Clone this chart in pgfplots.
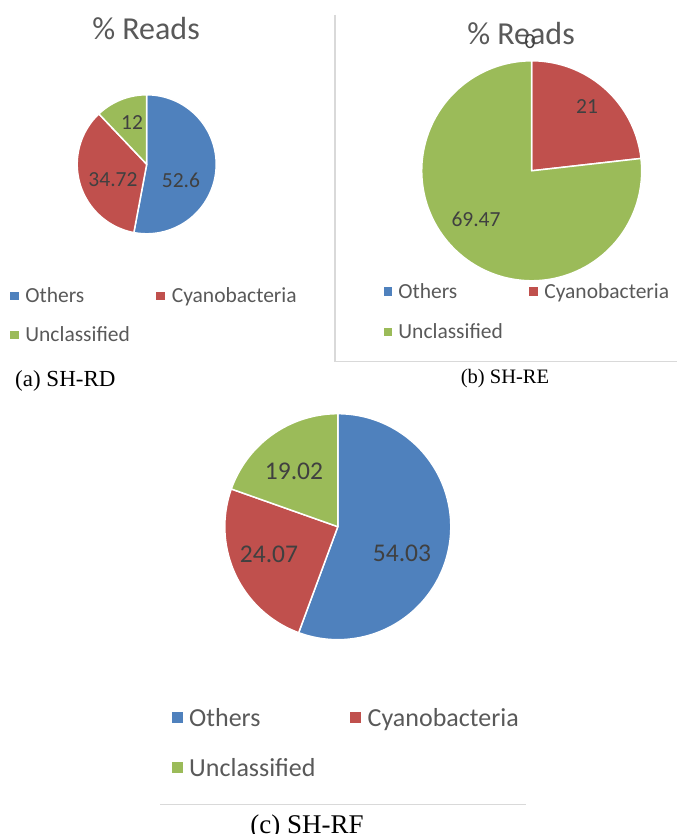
\documentclass[border=0pt]{standalone}
\usepackage{fontspec}
\setmainfont{Liberation Serif}
\newfontfamily\calibri{Carlito}
\usepackage{pgfplots}
\usepackage{pgfplotstable}
\pgfplotsset{compat=1.18}
\definecolor{blueC}{HTML}{4F81BD}
\definecolor{redC}{HTML}{C0504D}
\definecolor{greenC}{HTML}{9BBB59}
\definecolor{titleC}{HTML}{595959}
\definecolor{labC}{HTML}{404040}
\definecolor{legC}{HTML}{595959}
\definecolor{lineC}{HTML}{D9D9D9}

\pgfplotstableread{
category value
Others 52.6
Cyanobacteria 34.72
Unclassified 12
}\tabA
\pgfplotstableread{
category value
Others 0
Cyanobacteria 21
Unclassified 69.47
}\tabB
\pgfplotstableread{
category value
Others 54.03
Cyanobacteria 24.07
Unclassified 19.02
}\tabC

% one wedge: #1 low angle, #2 high angle, #3 colour, #4 cx, #5 cy, #6 radius
\newcommand{\slice}[6]{%
  \pgfmathparse{(#2-#1)>0.01}%
  \ifdim\pgfmathresult pt>0.5pt
    \addplot[forget plot, fill=#3, draw=white, line width=1.5pt, line join=round,
      domain=#1:#2, samples=120, variable=\t]
      ({#4+#6*cos(\t)},{#5+#6*sin(\t)}) -- (axis cs:#4,#5) -- cycle;
  \fi}
% pie from a table: clockwise from 12 o'clock
\newcommand{\pie}[4]{%
  \pgfplotstablegetelem{0}{value}\of#1\edef\va{\pgfplotsretval}%
  \pgfplotstablegetelem{1}{value}\of#1\edef\vb{\pgfplotsretval}%
  \pgfplotstablegetelem{2}{value}\of#1\edef\vc{\pgfplotsretval}%
  \pgfmathsetmacro\tot{\va+\vb+\vc}%
  \pgfmathsetmacro\fa{\va/\tot}%
  \pgfmathsetmacro\fb{\vb/\tot}%
  \pgfmathsetmacro\aB{90-\fa*360}%
  \pgfmathsetmacro\aC{\aB-\fb*360}%
  \slice{\aB}{90}{blueC}{#2}{#3}{#4}%
  \slice{\aC}{\aB}{redC}{#2}{#3}{#4}%
  \slice{-270}{\aC}{greenC}{#2}{#3}{#4}%
}

\pgfplotsset{panel/.style={width=677pt, height=834pt, scale only axis,
  xmin=0, xmax=677, ymin=0, ymax=834, hide axis, clip=false,
  at={(0pt,0pt)}, anchor=south west, legend columns=2, legend cell align=left}}

\begin{document}
\begin{tikzpicture}
\useasboundingbox (0pt,0pt) rectangle (677pt,834pt);

% ---------------- (a) SH-RD ----------------
\begin{axis}[panel,
  legend style={draw=none, fill=none, inner sep=0pt, outer sep=0pt,
    font=\calibri\fontsize{21.5}{21.5}\selectfont, text=legC, row sep=22.1pt,
    nodes={inner sep=0pt, outer sep=0pt},
    /tikz/every odd column/.append style={column sep=7.5pt},
    /tikz/every even column/.append style={column sep=0pt},
    at={(axis cs:10,546.6)}, anchor=north west}]
\pie{\tabA}{146.7}{669.7}{69.5}
\addlegendimage{legend image code/.code={\fill[blueC] (0pt,-3.75pt) rectangle (7.5pt,3.75pt);}}
\addlegendentry{\makebox[131pt][l]{\rule[-4.5pt]{0pt}{19.8pt}Others}}
\addlegendimage{legend image code/.code={\fill[redC] (0pt,-3.75pt) rectangle (7.5pt,3.75pt);}}
\addlegendentry{\makebox[131pt][l]{\rule[-4.5pt]{0pt}{19.8pt}Cyanobacteria}}
\addlegendimage{legend image code/.code={\fill[greenC] (0pt,-3.75pt) rectangle (7.5pt,3.75pt);}}
\addlegendentry{\makebox[131pt][l]{\rule[-4.5pt]{0pt}{19.8pt}Unclassified}}
\node[font=\calibri\fontsize{32}{32}\selectfont, text=titleC, anchor=base] at (axis cs:146,794) {\% Reads};
\node[font=\calibri\fontsize{21.5}{21.5}\selectfont, text=labC] at (axis cs:181,654) {52.6};
\node[font=\calibri\fontsize{21.5}{21.5}\selectfont, text=labC] at (axis cs:113,654) {34.72};
\node[font=\calibri\fontsize{21.5}{21.5}\selectfont, text=labC] at (axis cs:132,711) {12};
\node[font=\fontsize{23}{23}\selectfont, anchor=base west, inner sep=0pt] at (axis cs:15,447) {(a) SH-RD};
\end{axis}

% ---------------- (b) SH-RE ----------------
\begin{axis}[panel,
  legend style={draw=none, fill=none, inner sep=0pt, outer sep=0pt,
    font=\calibri\fontsize{21.5}{21.5}\selectfont, text=legC, row sep=23.6pt,
    nodes={inner sep=0pt, outer sep=0pt},
    /tikz/every odd column/.append style={column sep=7pt},
    /tikz/every even column/.append style={column sep=0pt},
    at={(axis cs:383.5,551.1)}, anchor=north west}]
\draw[lineC, line width=1.2pt] (axis cs:335,819) -- (axis cs:335,472.5) -- (axis cs:677,472.5);
\pie{\tabB}{531.7}{663.2}{110}
\addlegendimage{legend image code/.code={\fill[blueC] (0pt,-3.75pt) rectangle (7.5pt,3.75pt);}}
\addlegendentry{\makebox[131pt][l]{\rule[-4.5pt]{0pt}{19.8pt}Others}}
\addlegendimage{legend image code/.code={\fill[redC] (0pt,-3.75pt) rectangle (7.5pt,3.75pt);}}
\addlegendentry{\makebox[131pt][l]{\rule[-4.5pt]{0pt}{19.8pt}Cyanobacteria}}
\addlegendimage{legend image code/.code={\fill[greenC] (0pt,-3.75pt) rectangle (7.5pt,3.75pt);}}
\addlegendentry{\makebox[131pt][l]{\rule[-4.5pt]{0pt}{19.8pt}Unclassified}}
\node[font=\calibri\fontsize{32}{32}\selectfont, text=titleC, anchor=base] at (axis cs:521,789.5) {\% Reads};
\node[font=\calibri\fontsize{21.5}{21.5}\selectfont, text=labC] at (axis cs:530,792) {0};
\node[font=\calibri\fontsize{21.5}{21.5}\selectfont, text=labC] at (axis cs:587,727) {21};
\node[font=\calibri\fontsize{21.5}{21.5}\selectfont, text=labC] at (axis cs:476,615) {69.47};
\node[font=\fontsize{20.5}{20.5}\selectfont, anchor=base, inner sep=0pt] at (axis cs:505,450.5) {(b) SH-RE};
\end{axis}

% ---------------- (c) SH-RF ----------------
\begin{axis}[panel,
  legend style={draw=none, fill=none, inner sep=0pt, outer sep=0pt,
    font=\calibri\fontsize{26}{26}\selectfont, text=legC, row sep=28.6pt,
    nodes={inner sep=0pt, outer sep=0pt},
    /tikz/every odd column/.append style={column sep=7.1pt},
    /tikz/every even column/.append style={column sep=0pt},
    at={(axis cs:171.7,127.3)}, anchor=north west}]
\draw[lineC, line width=1.2pt] (axis cs:160,29.7) -- (axis cs:526,29.7);
\pie{\tabC}{337.8}{307.3}{113}
\addlegendimage{legend image code/.code={\fill[blueC] (0pt,-5pt) rectangle (10pt,5pt);}}
\addlegendentry{\makebox[161pt][l]{\rule[-5.2pt]{0pt}{25pt}Others}}
\addlegendimage{legend image code/.code={\fill[redC] (0pt,-5pt) rectangle (10pt,5pt);}}
\addlegendentry{\makebox[161pt][l]{\rule[-5.2pt]{0pt}{25pt}Cyanobacteria}}
\addlegendimage{legend image code/.code={\fill[greenC] (0pt,-5pt) rectangle (10pt,5pt);}}
\addlegendentry{\makebox[161pt][l]{\rule[-5.2pt]{0pt}{25pt}Unclassified}}
\node[font=\calibri\fontsize{25.5}{25.5}\selectfont, text=labC] at (axis cs:402,281) {54.03};
\node[font=\calibri\fontsize{25.5}{25.5}\selectfont, text=labC] at (axis cs:269,280) {24.07};
\node[font=\calibri\fontsize{25.5}{25.5}\selectfont, text=labC] at (axis cs:294,363) {19.02};
\node[font=\fontsize{27}{27}\selectfont, anchor=base, inner sep=0pt] at (axis cs:307,1) {(c) SH-RF};
\end{axis}
\end{tikzpicture}
\end{document}
